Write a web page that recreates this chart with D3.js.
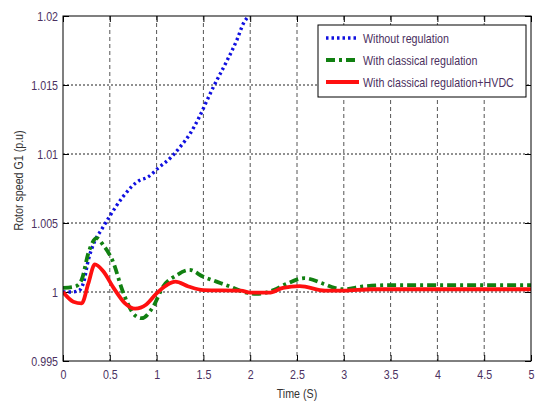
<!DOCTYPE html>
<html>
<head>
<meta charset="utf-8">
<script src="https://cdn.jsdelivr.net/npm/d3@7"></script>
<style>
  body { margin: 0; background: #fff; }
  svg text { font-family: "Liberation Sans", Arial, sans-serif; }
</style>
</head>
<body>
<div class="rotor-chart"></div>
<script>
// time (s), rotor speed (p.u)
var withoutRegulation = [
  [0, 1.0], [0.1, 1.0], [0.17, 1.0001], [0.22, 1.0007], [0.27, 1.0023],
  [0.34, 1.0037], [0.41, 1.0045], [0.5, 1.0055], [0.64, 1.0069], [0.82, 1.0081],
  [0.9, 1.0083], [1.02, 1.009], [1.16, 1.0098], [1.25, 1.0105], [1.36, 1.0115],
  [1.45, 1.0126], [1.54, 1.0139], [1.61, 1.0149], [1.74, 1.0166], [1.86, 1.0183],
  [1.93, 1.0195], [1.98, 1.02], [2.05, 1.021]
];
var classicalRegulation = [
  [0, 1.0003], [0.13, 1.0004], [0.2, 1.0009], [0.27, 1.0028], [0.36, 1.0039],
  [0.43, 1.0034], [0.54, 1.0021], [0.63, 1.0002], [0.77, 0.9983], [0.84, 0.9981],
  [0.96, 0.9989], [1.07, 1.0004], [1.21, 1.0012], [1.35, 1.0016], [1.5, 1.0011],
  [1.64, 1.00075], [1.78, 1.0004], [1.93, 1.0], [2.07, 0.99986], [2.25, 1.00014],
  [2.39, 1.0006], [2.58, 1.001], [2.78, 1.0006], [2.9, 1.0003], [3.0, 1.0002],
  [3.2, 1.0004], [3.5, 1.0005], [4, 1.0005], [4.5, 1.0005], [5, 1.0005]
];
var classicalHvdc = [
  [0, 1.0], [0.11, 0.9993], [0.2, 0.99918], [0.27, 1.0006], [0.34, 1.002],
  [0.43, 1.0015], [0.54, 1.0003], [0.66, 0.9992], [0.77, 0.9988], [0.89, 0.9991],
  [1.0, 0.9999], [1.11, 1.0005], [1.2, 1.00075], [1.34, 1.0004], [1.5, 1.00014],
  [1.9, 1.0001], [2.0, 0.99995], [2.2, 0.99995], [2.35, 1.0003], [2.53, 1.00043],
  [2.8, 1.0001], [3.0, 1.0001], [3.3, 1.0002], [5, 1.0002]
];

var xTicks = [0, 0.5, 1, 1.5, 2, 2.5, 3, 3.5, 4, 4.5, 5];
var yTicks = [0.995, 1, 1.005, 1.01, 1.015, 1.02];
var legendLabels = ["Without regulation", "With classical regulation", "With classical regulation+HVDC"];

var width = 535, height = 406;
var margin = {top: 16, right: 4, bottom: 45, left: 63};
var w = width - margin.left - margin.right;
var h = height - margin.top - margin.bottom;

var svg = d3.select(".rotor-chart").append("svg")
    .attr("width", width)
    .attr("height", height);

var g = svg.append("g")
    .attr("transform", "translate(" + margin.left + "," + margin.top + ")");

var x = d3.scaleLinear().domain([0, 5]).range([0, w]);
var y = d3.scaleLinear().domain([0.995, 1.02]).range([h, 0]);

var textColor = "#4b3060";

// grid
g.selectAll(".vgrid")
  .data(xTicks.slice(1, -1))
  .enter().append("line")
    .attr("x1", function(d) { return x(d); })
    .attr("x2", function(d) { return x(d); })
    .attr("y1", 0).attr("y2", h)
    .attr("stroke", "#555")
    .attr("stroke-dasharray", "4,3");

g.selectAll(".hgrid")
  .data(yTicks.slice(1, -1))
  .enter().append("line")
    .attr("x1", 0).attr("x2", w)
    .attr("y1", function(d) { return y(d); })
    .attr("y2", function(d) { return y(d); })
    .attr("stroke", "#222")
    .attr("stroke-dasharray", "2,2");

// axes, matlab style inward ticks on all sides
var xAxis = g.append("g")
    .attr("transform", "translate(0," + h + ")")
    .call(d3.axisBottom(x).tickValues(xTicks).tickSize(-6).tickPadding(9).tickFormat(d3.format("")));
var xTop = g.append("g")
    .call(d3.axisTop(x).tickValues(xTicks).tickSize(-6).tickFormat(""));
var yAxis = g.append("g")
    .call(d3.axisLeft(y).tickValues(yTicks).tickSize(-6).tickPadding(5).tickFormat(d3.format("")));
var yRight = g.append("g")
    .attr("transform", "translate(" + w + ",0)")
    .call(d3.axisRight(y).tickValues(yTicks).tickSize(-6).tickFormat(""));

[xAxis, xTop, yAxis, yRight].forEach(function(a) {
  a.select(".domain").remove();
  a.selectAll("line").attr("stroke", "#000");
  a.selectAll("text")
    .attr("fill", textColor)
    .style("font-size", "13px");
});
xAxis.selectAll("text").attr("dy", "0.71em");

// clip for curves
svg.append("defs").append("clipPath").attr("id", "plot-clip")
  .append("rect").attr("width", w).attr("height", h);

var line = d3.line()
    .x(function(d) { return x(d[0]); })
    .y(function(d) { return y(d[1]); })
    .curve(d3.curveMonotoneX);

var curves = g.append("g").attr("clip-path", "url(#plot-clip)");

var seriesStyle = [
  {data: withoutRegulation, color: "#1010e0", widthPx: 3.4, dash: "2.5,3"},
  {data: classicalRegulation, color: "#118011", widthPx: 3.8, dash: "9,4,3,4"},
  {data: classicalHvdc, color: "#ff1010", widthPx: 3.8, dash: null}
];

seriesStyle.forEach(function(s) {
  curves.append("path")
    .datum(s.data)
    .attr("d", line)
    .attr("fill", "none")
    .attr("stroke", s.color)
    .attr("stroke-width", s.widthPx)
    .attr("stroke-dasharray", s.dash);
});

// frame
g.append("rect")
    .attr("width", w).attr("height", h)
    .attr("fill", "none")
    .attr("stroke", "#000");

// legend
var legend = g.append("g")
    .attr("transform", "translate(" + (318 - margin.left) + "," + (25 - margin.top) + ")");
legend.append("rect")
    .attr("width", 208).attr("height", 72)
    .attr("fill", "#fff")
    .attr("stroke", "#000");

legendLabels.forEach(function(label, i) {
  var row = legend.append("g").attr("transform", "translate(0," + (13 + i * 22) + ")");
  row.append("line")
    .attr("x1", 8).attr("x2", 41)
    .attr("y1", 0).attr("y2", 0)
    .attr("stroke", seriesStyle[i].color)
    .attr("stroke-width", seriesStyle[i].widthPx)
    .attr("stroke-dasharray", seriesStyle[i].dash);
  row.append("text")
    .attr("x", 45).attr("y", 0).attr("dy", "0.35em")
    .attr("fill", textColor)
    .style("font-size", "13px")
    .text(label);
});

// axis titles
g.append("text")
    .attr("x", w / 2).attr("y", h + 37)
    .attr("text-anchor", "middle")
    .attr("fill", "#333")
    .style("font-size", "13px")
    .text("Time (S)");

g.append("text")
    .attr("transform", "translate(" + (18 - margin.left) + "," + (h / 2 - 8) + ") rotate(-90)")
    .attr("text-anchor", "middle")
    .attr("dy", "0.35em")
    .attr("fill", "#333")
    .style("font-size", "13px")
    .text("Rotor speed G1 (p.u)");

// the original uses a narrow face: squeeze every label horizontally
svg.selectAll("text").each(function() {
  var len = this.getComputedTextLength();
  if (len > 0) {
    d3.select(this)
      .attr("textLength", len * 0.82)
      .attr("lengthAdjust", "spacingAndGlyphs");
  }
});
</script>
</body>
</html>
